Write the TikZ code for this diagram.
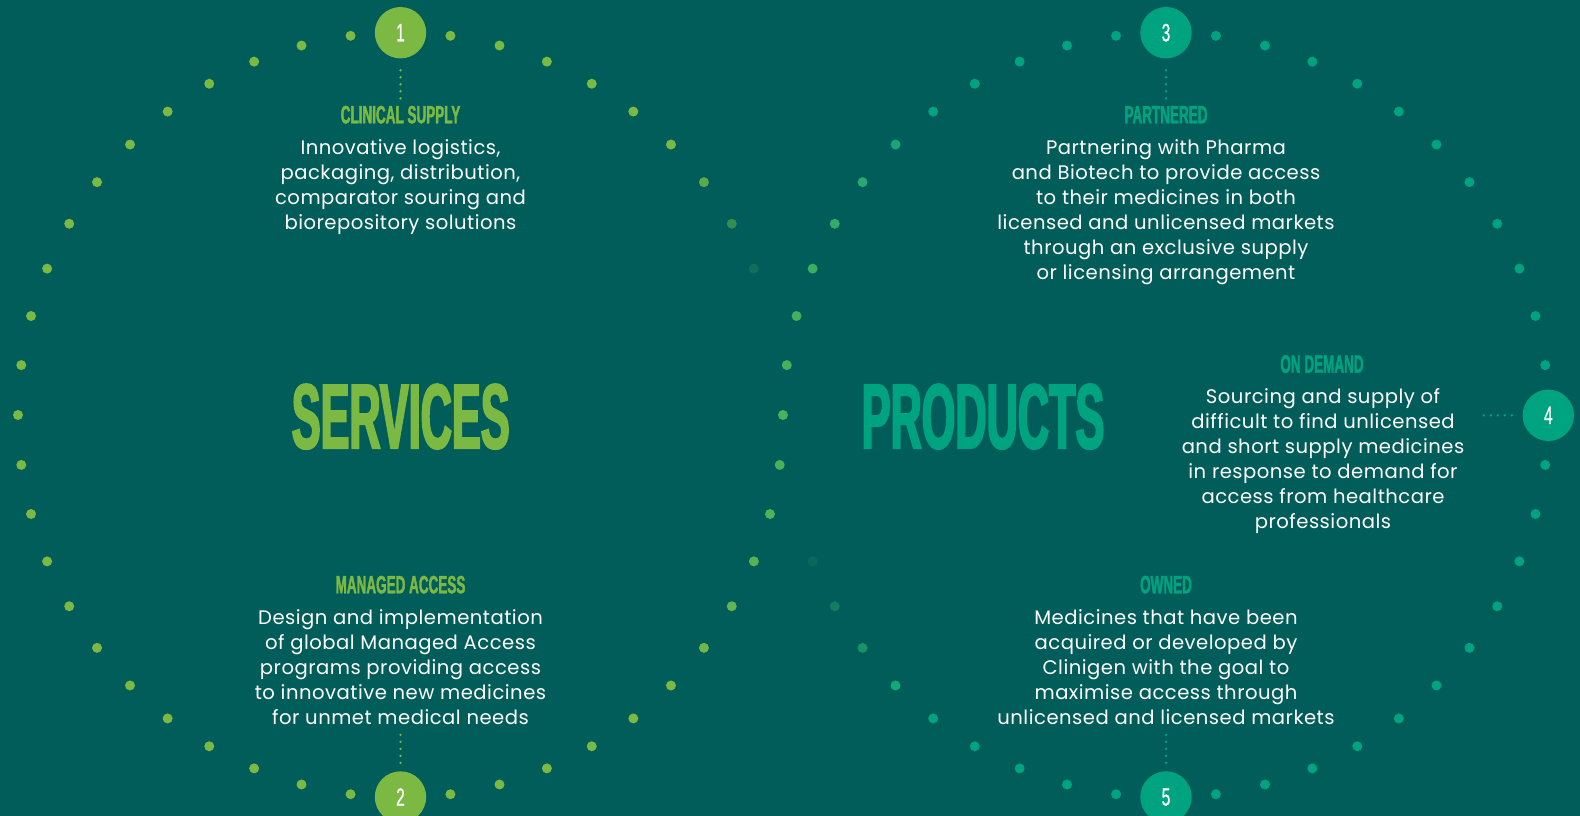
\documentclass[tikz,border=0pt]{standalone}
\usepackage{fontspec}
\setmainfont{Poppins}[LetterSpace=2.5]
\newfontfamily\titlefont[FakeStretch=0.47,FakeBold=2]{Liberation Sans Bold}
\newfontfamily\labelfont[FakeStretch=0.54,FakeBold=1.5]{Liberation Sans Bold}
\newfontfamily\numfont[FakeStretch=0.62,FakeBold=0.8]{Liberation Sans}
\definecolor{bg}{HTML}{005D5A}
\definecolor{grn}{HTML}{7CB943}
\definecolor{tea}{HTML}{00A380}
\begin{document}
\begin{tikzpicture}[x=1pt,y=-1pt,
  numc/.style={circle,inner sep=0pt,minimum size=51.4pt,text=white,
    font=\numfont\fontsize{25}{25}\selectfont},
  dotline/.style={line width=2.6pt,line cap=round,dash pattern=on 0pt off 7pt},
  title/.style={inner sep=0pt,anchor=base,font=\titlefont\fontsize{92}{92}\selectfont},
  label/.style={inner sep=0pt,anchor=base,font=\labelfont\fontsize{25}{25}\selectfont},
  body/.style={inner sep=0pt,anchor=north,align=center,text=white,
    font=\fontsize{19.6}{25}\selectfont}]
% page
\fill[bg] (0,0) rectangle (1580,816);
\useasboundingbox (0,0) rectangle (1580,816);
\def\R{382.5}
\def\cy{415}
% ring of dots: services
\foreach \k in {0,...,47}{
  \pgfmathtruncatemacro\hid{(\k==1)||(\k==2)||(\k==12)||(\k==36)}
  \ifnum\hid=0
    \pgfmathsetmacro\a{7.5*\k}
    \pgfmathsetmacro\op{(\k==3)*0.2+(\k==4)*0.55+(\k==5)*0.85+((\k<3)||(\k>5))*1}
    \pgfmathsetmacro\px{400.5+\R*cos(\a)}
    \pgfmathsetmacro\py{\cy-\R*sin(\a)}
    \pgfmathtruncatemacro\p{max(0,min(100,(940-\px)/2.6))}
    \fill[grn!\p!tea,opacity=\op] (\px,\py) circle[radius=5pt];
  \fi
}
% ring of dots: products
\foreach \k in {0,...,47}{
  \pgfmathtruncatemacro\hid{(\k==0)||(\k==12)||(\k==24)||(\k==25)||(\k==26)||(\k==36)}
  \ifnum\hid=0
    \pgfmathsetmacro\a{7.5*\k}
    \pgfmathsetmacro\op{(\k==27)*0.15+(\k==28)*0.4+(\k==29)*0.7+((\k<27)||(\k>29))*1}
    \pgfmathsetmacro\px{1166+\R*cos(\a)}
    \pgfmathsetmacro\py{\cy-\R*sin(\a)}
    \pgfmathtruncatemacro\p{max(0,min(100,(940-\px)/2.6))}
    \fill[grn!\p!tea,opacity=\op] (\px,\py) circle[radius=5pt];
  \fi
}
% numbered circles
\node[numc,fill=grn] (c1) at (400.5,32.7) {1};
\node[numc,fill=grn] (c2) at (400.5,797) {2};
\node[numc,fill=tea] (c3) at (1166,32.7) {3};
\node[numc,fill=tea] (c4) at (1548.3,415.3) {4};
\node[numc,fill=tea] (c5) at (1166,797) {5};
% big titles
\node[title,text=grn] (svc) at (400.7,448.3) {SERVICES};
\node[title,text=tea] (prd) at (983,448.3) {PRODUCTS};
% section labels
\node[label,text=grn] (l1) at (400.5,123.3) {CLINICAL SUPPLY};
\node[label,text=grn] (l2) at (400.5,593.3) {MANAGED ACCESS};
\node[label,text=tea] (l3) at (1166,123.3) {PARTNERED};
\node[label,text=tea] (l4) at (1322,372.7) {ON DEMAND};
\node[label,text=tea] (l5) at (1166,593.3) {OWNED};
% descriptions
\node[body] (b1) at (400.5,139) {Innovative logistics,\\packaging, distribution,\\comparator souring and\\biorepository solutions};
\node[body] (b2) at (400.5,609) {Design and implementation\\of global Managed Access\\programs providing access\\to innovative new medicines\\for unmet medical needs};
\node[body] (b3) at (1166,139) {Partnering with Pharma\\and Biotech to provide access\\to their medicines in both\\licensed and unlicensed markets\\through an exclusive supply\\or licensing arrangement};
\node[body] (b4) at (1323,388.5) {Sourcing and supply of\\difficult to find unlicensed\\and short supply medicines\\in response to demand for\\access from healthcare\\professionals};
\node[body] (b5) at (1166,609) {Medicines that have been\\acquired or developed by\\Clinigen with the goal to\\maximise access through\\unlicensed and licensed markets};
% dotted leaders
\coordinate (e1) at (400.5,98.5);
\coordinate (e2) at (400.5,734.5);
\coordinate (e3) at (1166,98.5);
\coordinate (e4) at (1482.5,415.3);
\coordinate (e5) at (1166,734.5);
\draw[dotline,grn,shorten <=11.7pt] (c1) -- (e1);
\draw[dotline,grn,shorten <=8.3pt] (c2) -- (e2);
\draw[dotline,tea,shorten <=11.7pt] (c3) -- (e3);
\draw[dotline,tea,shorten <=10.6pt] (c4) -- (e4);
\draw[dotline,tea,shorten <=8.3pt] (c5) -- (e5);
\end{tikzpicture}
\end{document}
